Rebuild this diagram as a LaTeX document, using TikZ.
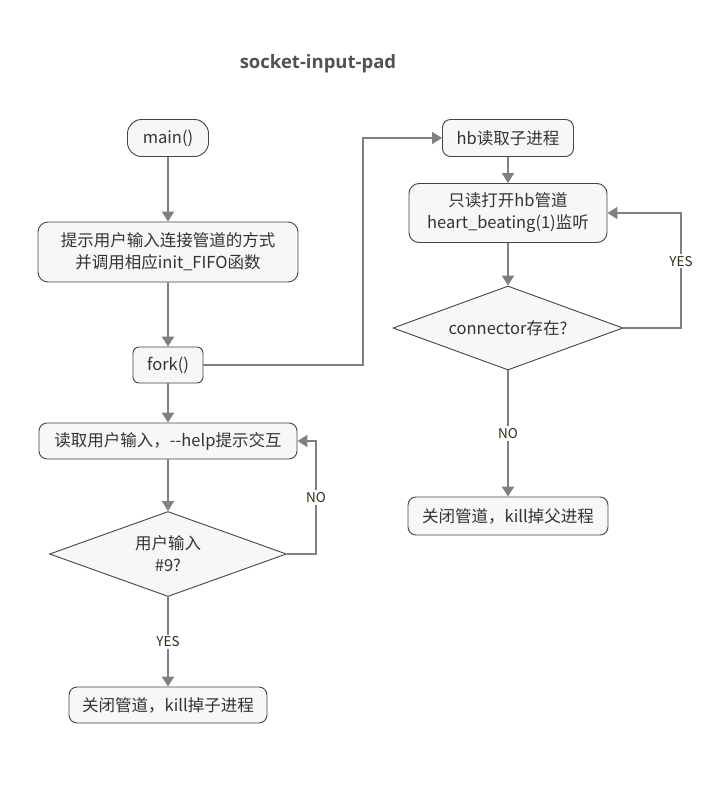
\documentclass[tikz,border=0pt]{standalone}
\usepackage{fontspec}
\setmainfont{Noto Sans CJK SC}
\newfontfamily\titlefont{Open Sans}
\usetikzlibrary{arrows.meta,shapes.geometric,calc}
\definecolor{linegray}{RGB}{128,128,128}
\definecolor{boxfill}{RGB}{247,247,247}
\definecolor{boxline}{RGB}{68,68,68}
\definecolor{textgray}{RGB}{51,51,51}
\definecolor{lblcolor}{RGB}{51,44,20}

\begin{document}
\begin{tikzpicture}[x=1pt,y=-1pt,
    box/.style={draw=boxline,fill=boxfill,rounded corners=8pt,line width=0.9pt,
      text=textgray,font=\fontsize{16.5}{22}\selectfont,align=center,inner sep=0pt},
    decision/.style={diamond,aspect=2.7,draw=boxline,fill=boxfill,line width=0.9pt,
      text=textgray,font=\fontsize{16.5}{22}\selectfont,align=center,inner sep=0pt},
    flow/.style={draw=linegray,line width=2pt,-{Triangle[length=10pt,width=12pt]}},
    lbl/.style={fill=white,text=lblcolor,font=\fontsize{13.5}{15}\selectfont,inner sep=2pt}]
    \useasboundingbox (0,0) rectangle (726,796);
    \node[text=textgray!85] (title) at (318,64) {\titlefont\bfseries\fontsize{18.5}{22}\selectfont socket-input-pad};

    \node[box,rounded corners=14pt,minimum width=81pt,minimum height=37pt] (main) at (168,138) {main()};
    \node[box,rounded corners=10pt,minimum width=260pt,minimum height=60pt] (init) at (168,252)
      {提示用户输入连接管道的方式\\并调用相应init\_FIFO函数};
    \node[box,rounded corners=6pt,minimum width=70pt,minimum height=36pt] (fork) at (168,365) {fork()};
    \node[box,minimum width=258pt,minimum height=36pt] (read) at (168,441) {读取用户输入，-{}-help提示交互};
    \node[decision,minimum width=237pt,minimum height=85pt] (ask) at (168,554) {用户输入\\\#9?};
    \node[box,minimum width=198pt,minimum height=36pt] (killchild) at (168,705) {关闭管道，kill掉子进程};

    \node[box,minimum width=131pt,minimum height=37pt] (hb) at (508,138) {hb读取子进程};
    \node[box,rounded corners=10pt,minimum width=198pt,minimum height=59pt] (listen) at (508,213)
      {只读打开hb管道\\heart\_beating(1)监听};
    \node[decision,minimum width=230pt,minimum height=84pt] (conn) at (508,328) {connector存在?};
    \node[box,minimum width=200pt,minimum height=38pt] (killparent) at (508,516) {关闭管道，kill掉父进程};

    \coordinate (forkturn) at (363,138);
    \coordinate (noturn) at (316,554);
    \coordinate (yesturn) at (681,328);

    \draw[flow] (main) -- (init);
    \draw[flow] (init) -- (fork);
    \draw[flow] (fork.east) -| (forkturn) -- (hb.west);
    \draw[flow] (fork) -- (read);
    \draw[flow] (read) -- (ask);
    \draw[flow] (ask.east) -- (noturn) |- node[lbl,pos=0.25] {NO} (read.east);
    \draw[flow] (ask) -- node[lbl] {YES} (killchild);

    \draw[flow] (hb) -- (listen);
    \draw[flow] (listen) -- (conn);
    \draw[flow] (conn.east) -- (yesturn) |- node[lbl,pos=0.29] {YES} (listen.east);
    \draw[flow] (conn) -- node[lbl] {NO} (killparent);
  \end{tikzpicture}
\end{document}
